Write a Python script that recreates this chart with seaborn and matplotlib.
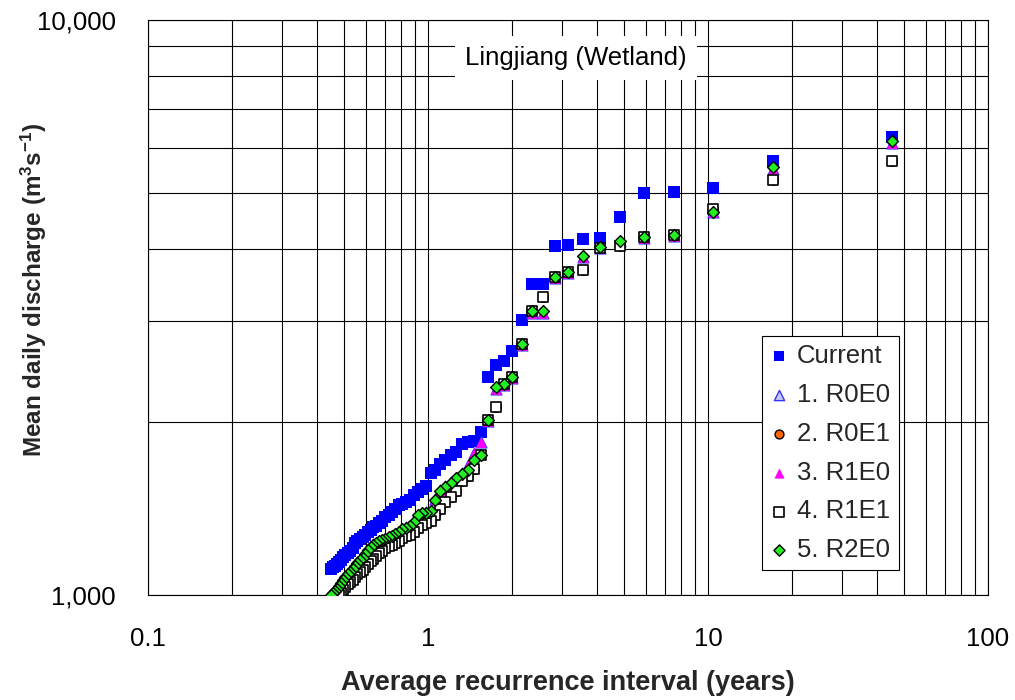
import matplotlib
matplotlib.use("Agg")
import matplotlib.pyplot as plt
import seaborn as sns
from matplotlib.ticker import FixedLocator, FixedFormatter, NullFormatter, LogLocator

# Average recurrence interval (years) of each ranked flow
recurrence_years = [45.33, 17.0, 10.46, 7.556, 5.913, 4.857, 4.121, 3.579, 3.163, 2.833,
                    2.566, 2.345, 2.159, 2.0, 1.863, 1.744, 1.639, 1.545, 1.462, 1.388,
                    1.320, 1.259, 1.204, 1.153, 1.106, 1.0625, 1.0226, 0.9855, 0.951, 0.919,
                    0.889, 0.861, 0.834, 0.810, 0.786, 0.764, 0.743, 0.724, 0.705, 0.687,
                    0.670, 0.654, 0.638, 0.624, 0.610, 0.596, 0.584, 0.571, 0.560, 0.548,
                    0.538, 0.527, 0.517, 0.507, 0.498, 0.489, 0.481, 0.472, 0.464, 0.456, 0.449]

# Mean daily discharge (m3/s) for each scenario
current = [6270, 5690, 5110, 5020, 5000, 4540, 4170, 4160, 4060, 4040,
           3480, 3480, 3010, 2660, 2550, 2510, 2390, 1920, 1850, 1845,
           1834, 1773, 1752, 1717, 1690, 1650, 1631, 1548, 1529, 1511,
           1493, 1463, 1451, 1439, 1434, 1411, 1394, 1378, 1367, 1345,
           1334, 1318, 1313, 1297, 1287, 1271, 1261, 1251, 1241, 1231,
           1207, 1193, 1183, 1174, 1164, 1150, 1141, 1132, 1123, 1119, 1110]

r1e0 = [6120, 5510, 4630, 4210, 4180, 4120, 4020, 3870, 3630, 3560,
        3097, 3090, 2720, 2380, 2320, 2284, 2010, 1842, 1766, 1680,
        1630, 1600, 1572, 1548, 1520, 1470, 1405, 1392, 1386, 1375,
        1338, 1320, 1312, 1302, 1289, 1279, 1266, 1261, 1253, 1246,
        1241, 1233, 1226, 1214, 1199, 1180, 1164, 1152, 1139, 1125,
        1112, 1098, 1090, 1077, 1064, 1051, 1039, 1026, 1018, 1010, 1002]

r0e0 = list(r1e0)

r1e1 = [5690, 5260, 4690, 4230, 4195, 4046, 4014, 3675, 3645, 3567,
        3300, 3124, 2732, 2391, 2330, 2123, 2015, 1752, 1656, 1610,
        1578, 1517, 1481, 1451, 1411, 1378, 1345, 1334, 1323, 1308,
        1287, 1274, 1264, 1254, 1239, 1231, 1224, 1217, 1207, 1195,
        1181, 1169, 1155, 1144, 1132, 1119, 1105, 1096, 1086, 1075,
        1064, 1053, 1043, 1033, 1020, 1010, 1000]

r0e1 = list(r1e1)

r2e0 = [6170, 5540, 4630, 4230, 4190, 4130, 4030, 3880, 3640, 3570,
        3120, 3120, 2730, 2390, 2330, 2300, 2015, 1752, 1717, 1650,
        1623, 1597, 1569, 1544, 1517, 1463, 1400, 1389, 1386, 1378,
        1340, 1318, 1310, 1300, 1287, 1277, 1264, 1259, 1251, 1244,
        1239, 1231, 1224, 1212, 1197, 1178, 1162, 1150, 1137, 1123,
        1110, 1096, 1088, 1075, 1062, 1049, 1037, 1024, 1016, 1008, 1000]

series_labels = ["Current", "1. R0E0", "2. R0E1", "3. R1E0", "4. R1E1", "5. R2E0"]
y_tick_values = [1000, 10000]
y_tick_labels = ["1,000", "10,000"]
x_tick_values = [0.1, 1, 10, 100]
x_tick_labels = ["0.1", "1", "10", "100"]

sns.set_theme(style="white")
plt.rcParams["font.family"] = ["Liberation Sans", "DejaVu Sans"]
plt.rcParams["mathtext.fontset"] = "custom"
plt.rcParams["mathtext.rm"] = "Liberation Sans:bold"
plt.rcParams["mathtext.default"] = "rm"

fig = plt.figure(figsize=(10.15, 7.0), dpi=100)
fig.patch.set_facecolor("white")
ax = fig.add_axes([148 / 1015, 105 / 700, 840 / 1015, 575 / 700])
ax.set_facecolor("white")

styles = [
    dict(data=current, marker="s", s=68, color="#0000FF", edgecolor="#0000FF", linewidth=0),
    dict(data=r0e0, marker="^", s=60, color="#C8C8EC", edgecolor="#3333FF", linewidth=1.0),
    dict(data=r0e1, marker="o", s=45, color="#FF6600", edgecolor="black", linewidth=1.0),
    dict(data=r1e0, marker="^", s=60, color="#FF00FF", edgecolor="#FF00FF", linewidth=0),
    dict(data=r1e1, marker="s", s=58, color="white", edgecolor="black", linewidth=1.2),
    dict(data=r2e0, marker="D", s=36, color="#22EE22", edgecolor="black", linewidth=1.0),
]

for label, st in zip(series_labels, styles):
    yvals = st.pop("data")
    xvals = recurrence_years[:len(yvals)]
    sns.scatterplot(x=xvals, y=yvals, ax=ax, label=label, zorder=3, **st)

ax.set_xscale("log")
ax.set_yscale("log")
ax.set_xlim(0.1, 100)
ax.set_ylim(1000, 10000)

ax.xaxis.set_major_locator(FixedLocator(x_tick_values))
ax.xaxis.set_major_formatter(FixedFormatter(x_tick_labels))
ax.xaxis.set_minor_locator(LogLocator(base=10, subs=[2, 3, 4, 5, 6, 7, 8, 9]))
ax.xaxis.set_minor_formatter(NullFormatter())
ax.yaxis.set_major_locator(FixedLocator(y_tick_values))
ax.yaxis.set_major_formatter(FixedFormatter(y_tick_labels))
ax.yaxis.set_minor_locator(FixedLocator([2000, 3000, 4000, 5000, 6000, 7000, 8000, 9000]))
ax.yaxis.set_minor_formatter(NullFormatter())

ax.set_axisbelow(True)
ax.grid(which="both", axis="both", color="black", linewidth=0.8)
for sp in ax.spines.values():
    sp.set_color("black")
    sp.set_linewidth(0.8)

ax.tick_params(which="major", direction="out", length=7, width=0.8, color="black",
               labelsize=18.5, labelcolor="black")
ax.tick_params(axis="y", which="major", pad=16)
ax.tick_params(axis="x", which="major", pad=16)
ax.tick_params(which="minor", length=0)

ax.set_xlabel("Average recurrence interval (years)", fontsize=19.5, fontweight="bold")
ax.set_ylabel("Mean daily discharge (m$^{3}$s$^{-1}$)", fontsize=17.5, fontweight="bold")
ax.xaxis.label.set_va("center")
ax.yaxis.label.set_va("center")
ax.xaxis.set_label_coords(0.5, (595 - 683) / 575)
ax.yaxis.set_label_coords((34 - 148) / 840, (595 - 290) / 575)

fig.text(576 / 1015, 1 - 58 / 700, "Lingjiang (Wetland)", ha="center", va="center",
         fontsize=18.5, color="black",
         bbox=dict(facecolor="white", edgecolor="none", boxstyle="square,pad=0.4"))

leg = ax.legend(loc="upper left", bbox_to_anchor=(762 / 1015, 1 - 336 / 700),
                bbox_transform=fig.transFigure, frameon=True, fancybox=False,
                edgecolor="black", framealpha=1, fontsize=18.5, handlelength=0.7,
                handletextpad=0.35, labelspacing=0.575, borderpad=0.32, borderaxespad=0,
                markerscale=0.95)
leg.get_frame().set_linewidth(0.8)

fig.savefig("out.png", dpi=100, facecolor="white")
